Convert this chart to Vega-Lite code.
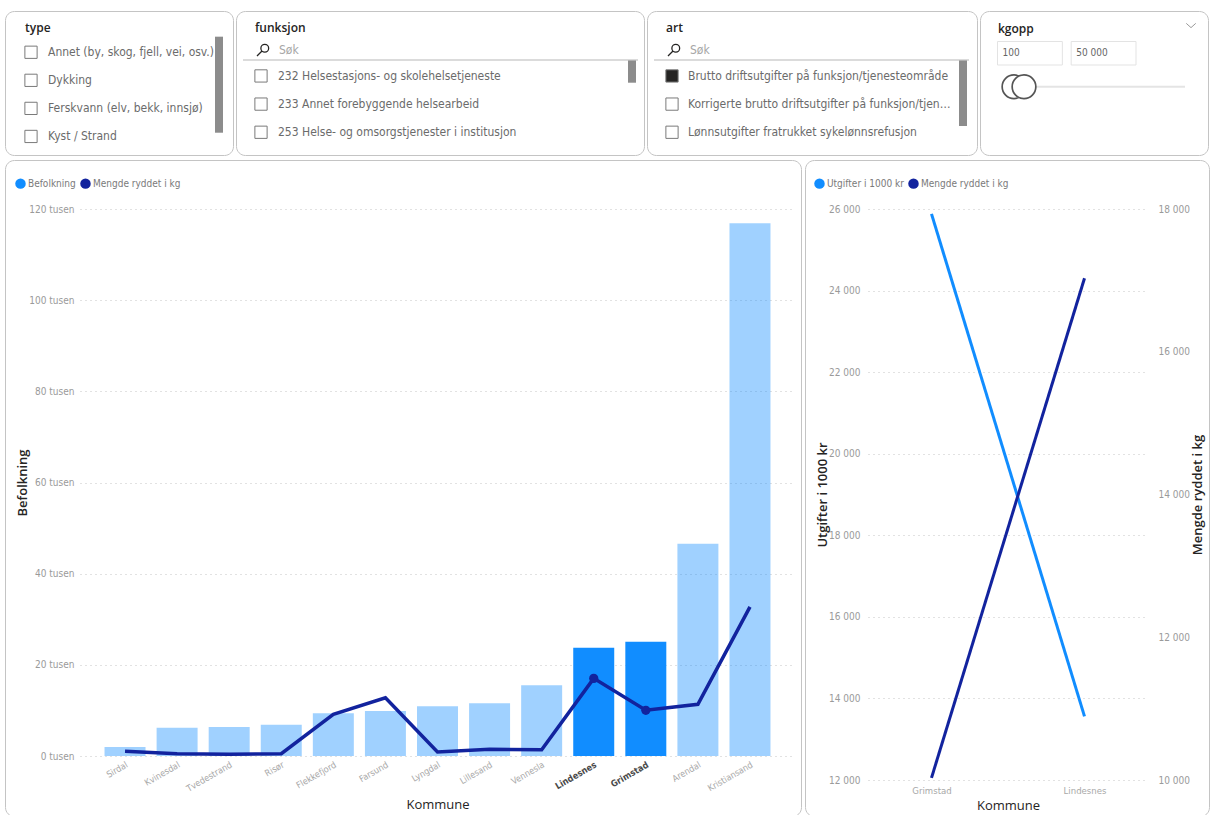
{
  "$schema": "https://vega.github.io/schema/vega-lite/v6.json",
  "background": "#ffffff",
  "padding": {"left": 4, "top": 10, "right": 0, "bottom": 0},
  "datasets": {
    "kommuner": [
      {"Kommune": "Sirdal", "Befolkning": 1970, "Mengde ryddet i kg": 1030, "valgt": false},
      {"Kommune": "Kvinesdal", "Befolkning": 6200, "Mengde ryddet i kg": 500, "valgt": false},
      {"Kommune": "Tvedestrand", "Befolkning": 6360, "Mengde ryddet i kg": 370, "valgt": false},
      {"Kommune": "Risør", "Befolkning": 6860, "Mengde ryddet i kg": 500, "valgt": false},
      {"Kommune": "Flekkefjord", "Befolkning": 9360, "Mengde ryddet i kg": 9140, "valgt": false},
      {"Kommune": "Farsund", "Befolkning": 9870, "Mengde ryddet i kg": 12780, "valgt": false},
      {"Kommune": "Lyngdal", "Befolkning": 10900, "Mengde ryddet i kg": 880, "valgt": false},
      {"Kommune": "Lillesand", "Befolkning": 11550, "Mengde ryddet i kg": 1470, "valgt": false},
      {"Kommune": "Vennesla", "Befolkning": 15500, "Mengde ryddet i kg": 1380, "valgt": false},
      {"Kommune": "Lindesnes", "Befolkning": 23750, "Mengde ryddet i kg": 17030, "Utgifter i 1000 kr": 13560, "valgt": true},
      {"Kommune": "Grimstad", "Befolkning": 25060, "Mengde ryddet i kg": 10030, "Utgifter i 1000 kr": 25880, "valgt": true},
      {"Kommune": "Arendal", "Befolkning": 46550, "Mengde ryddet i kg": 11340, "valgt": false},
      {"Kommune": "Kristiansand", "Befolkning": 116900, "Mengde ryddet i kg": 32730, "valgt": false}
    ],
    "slicere": [
      {"slicer": "type"},
      {"slicer": "funksjon"},
      {"slicer": "art"},
      {"slicer": "kgopp"}
    ],
    "valg": [
      {"slicer": "type", "nr": 1, "element": "Annet (by, skog, fjell, vei, osv.)", "valgt": false},
      {"slicer": "type", "nr": 2, "element": "Dykking", "valgt": false},
      {"slicer": "type", "nr": 3, "element": "Ferskvann (elv, bekk, innsjø)", "valgt": false},
      {"slicer": "type", "nr": 4, "element": "Kyst / Strand", "valgt": false},
      {"slicer": "funksjon", "nr": 1, "element": "232 Helsestasjons- og skolehelsetjeneste", "valgt": false},
      {"slicer": "funksjon", "nr": 2, "element": "233 Annet forebyggende helsearbeid", "valgt": false},
      {"slicer": "funksjon", "nr": 3, "element": "253 Helse- og omsorgstjenester i institusjon", "valgt": false},
      {"slicer": "art", "nr": 1, "element": "Brutto driftsutgifter på funksjon/tjenesteområde", "valgt": true},
      {"slicer": "art", "nr": 2, "element": "Korrigerte brutto driftsutgifter på funksjon/tjenesteområde", "valgt": false},
      {"slicer": "art", "nr": 3, "element": "Lønnsutgifter fratrukket sykelønnsrefusjon", "valgt": false}
    ],
    "kgopp": [
      {"grense": "fra", "verdi": 100},
      {"grense": "til", "verdi": 50000}
    ]
  },
  "spacing": 3,
  "resolve": {"scale": {"color": "independent"}},
  "vconcat": [
    {
      "spacing": 3,
      "bounds": "flush",
      "resolve": {"scale": {"color": "independent"}},
      "hconcat": [
        {
          "width": 228,
          "height": 144,
          "layer": [
            {
              "data": {"name": "slicere"},
              "transform": [{"filter": "datum.slicer === 'type'"}],
              "mark": {"type": "text", "align": "left", "baseline": "middle", "font": "Open Sans", "fontSize": 12, "fontWeight": 600, "color": "#252423"},
              "encoding": {
                "x": {"datum": 20, "type": "quantitative", "scale": {"domain": [0, 228], "nice": false, "zero": false}, "axis": null},
                "y": {"datum": 0.146, "type": "quantitative", "scale": {"domain": [-0.47, 4.661], "nice": false, "zero": false, "reverse": true}, "axis": null},
                "text": {"field": "slicer"}
              }
            },
            {
              "data": {"name": "slicere"},
              "transform": [{"filter": "datum.slicer === 'type'"}],
              "mark": {"type": "rule", "strokeWidth": 8, "color": "#8c8c8c"},
              "encoding": {
                "x": {"datum": 214, "type": "quantitative", "scale": {"domain": [0, 228], "nice": false, "zero": false}, "axis": null},
                "y": {"datum": 0.445, "type": "quantitative", "scale": {"domain": [-0.47, 4.661], "nice": false, "zero": false, "reverse": true}, "axis": null},
                "y2": {"datum": 3.867}
              }
            },
            {
              "data": {"name": "valg"},
              "transform": [{"filter": "datum.slicer === 'type'"}],
              "mark": {"type": "point", "shape": "square", "size": 150, "strokeWidth": 1, "stroke": "#7a7a7a", "opacity": 1},
              "encoding": {
                "x": {"datum": 26, "type": "quantitative", "scale": {"domain": [0, 228], "nice": false, "zero": false}, "axis": null},
                "y": {"field": "nr", "type": "quantitative", "scale": {"domain": [-0.47, 4.661], "nice": false, "zero": false, "reverse": true}, "axis": null},
                "fill": {"condition": {"test": "datum.valgt", "value": "#252423"}, "value": "#ffffff"}
              }
            },
            {
              "data": {"name": "valg"},
              "transform": [{"filter": "datum.slicer === 'type'"}],
              "mark": {"type": "text", "align": "left", "baseline": "middle", "fontSize": 12, "color": "#6b6b6b"},
              "encoding": {
                "x": {"datum": 43, "type": "quantitative", "scale": {"domain": [0, 228], "nice": false, "zero": false}, "axis": null},
                "y": {"field": "nr", "type": "quantitative", "scale": {"domain": [-0.47, 4.661], "nice": false, "zero": false, "reverse": true}, "axis": null},
                "text": {"field": "element"}
              }
            }
          ]
        },
        {
          "width": 408,
          "height": 144,
          "layer": [
            {
              "data": {"name": "slicere"},
              "transform": [{"filter": "datum.slicer === 'funksjon'"}],
              "mark": {"type": "text", "align": "left", "baseline": "middle", "font": "Open Sans", "fontSize": 12, "fontWeight": 600, "color": "#252423"},
              "encoding": {
                "x": {"datum": 19, "type": "quantitative", "scale": {"domain": [0, 408], "nice": false, "zero": false}, "axis": null},
                "y": {"datum": -0.693, "type": "quantitative", "scale": {"domain": [-1.307, 3.808], "nice": false, "zero": false, "reverse": true}, "axis": null},
                "text": {"field": "slicer"}
              }
            },
            {
              "data": {"name": "slicere"},
              "transform": [{"filter": "datum.slicer === 'funksjon'"}],
              "mark": {"type": "point", "shape": "M0.8,-0.25A0.55,0.55 0 1 1 -0.3,-0.25A0.55,0.55 0 1 1 0.8,-0.25M-0.14,0.14L-0.85,0.85", "size": 200, "filled": false, "stroke": "#252423", "strokeWidth": 1.3, "opacity": 1},
              "encoding": {
                "x": {"datum": 27, "type": "quantitative", "scale": {"domain": [0, 408], "nice": false, "zero": false}, "axis": null},
                "y": {"datum": 0.078, "type": "quantitative", "scale": {"domain": [-1.307, 3.808], "nice": false, "zero": false, "reverse": true}, "axis": null}
              }
            },
            {
              "data": {"name": "slicere"},
              "transform": [{"filter": "datum.slicer === 'funksjon'"}],
              "mark": {"type": "text", "text": "Søk", "align": "left", "baseline": "middle", "fontSize": 12, "color": "#a6a6a6"},
              "encoding": {
                "x": {"datum": 43, "type": "quantitative", "scale": {"domain": [0, 408], "nice": false, "zero": false}, "axis": null},
                "y": {"datum": 0.078, "type": "quantitative", "scale": {"domain": [-1.307, 3.808], "nice": false, "zero": false, "reverse": true}, "axis": null}
              }
            },
            {
              "data": {"name": "slicere"},
              "transform": [{"filter": "datum.slicer === 'funksjon'"}],
              "mark": {"type": "rule", "strokeWidth": 1.5, "color": "#cfcfcf"},
              "encoding": {
                "x": {"datum": 7, "type": "quantitative", "scale": {"domain": [0, 408], "nice": false, "zero": false}, "axis": null},
                "x2": {"datum": 402},
                "y": {"datum": 0.433, "type": "quantitative", "scale": {"domain": [-1.307, 3.808], "nice": false, "zero": false, "reverse": true}, "axis": null}
              }
            },
            {
              "data": {"name": "slicere"},
              "transform": [{"filter": "datum.slicer === 'funksjon'"}],
              "mark": {"type": "rule", "strokeWidth": 8, "color": "#8c8c8c"},
              "encoding": {
                "x": {"datum": 396, "type": "quantitative", "scale": {"domain": [0, 408], "nice": false, "zero": false}, "axis": null},
                "y": {"datum": 0.45, "type": "quantitative", "scale": {"domain": [-1.307, 3.808], "nice": false, "zero": false, "reverse": true}, "axis": null},
                "y2": {"datum": 1.24}
              }
            },
            {
              "data": {"name": "valg"},
              "transform": [{"filter": "datum.slicer === 'funksjon'"}],
              "mark": {"type": "point", "shape": "square", "size": 150, "strokeWidth": 1, "stroke": "#7a7a7a", "opacity": 1},
              "encoding": {
                "x": {"datum": 25, "type": "quantitative", "scale": {"domain": [0, 408], "nice": false, "zero": false}, "axis": null},
                "y": {"field": "nr", "type": "quantitative", "scale": {"domain": [-1.307, 3.808], "nice": false, "zero": false, "reverse": true}, "axis": null},
                "fill": {"condition": {"test": "datum.valgt", "value": "#252423"}, "value": "#ffffff"}
              }
            },
            {
              "data": {"name": "valg"},
              "transform": [{"filter": "datum.slicer === 'funksjon'"}],
              "mark": {"type": "text", "align": "left", "baseline": "middle", "fontSize": 12, "color": "#6b6b6b"},
              "encoding": {
                "x": {"datum": 42, "type": "quantitative", "scale": {"domain": [0, 408], "nice": false, "zero": false}, "axis": null},
                "y": {"field": "nr", "type": "quantitative", "scale": {"domain": [-1.307, 3.808], "nice": false, "zero": false, "reverse": true}, "axis": null},
                "text": {"field": "element"}
              }
            }
          ]
        },
        {
          "width": 330,
          "height": 144,
          "layer": [
            {
              "data": {"name": "slicere"},
              "transform": [{"filter": "datum.slicer === 'art'"}],
              "mark": {"type": "text", "align": "left", "baseline": "middle", "font": "Open Sans", "fontSize": 12, "fontWeight": 600, "color": "#252423"},
              "encoding": {
                "x": {"datum": 19, "type": "quantitative", "scale": {"domain": [0, 330], "nice": false, "zero": false}, "axis": null},
                "y": {"datum": -0.693, "type": "quantitative", "scale": {"domain": [-1.307, 3.808], "nice": false, "zero": false, "reverse": true}, "axis": null},
                "text": {"field": "slicer"}
              }
            },
            {
              "data": {"name": "slicere"},
              "transform": [{"filter": "datum.slicer === 'art'"}],
              "mark": {"type": "point", "shape": "M0.8,-0.25A0.55,0.55 0 1 1 -0.3,-0.25A0.55,0.55 0 1 1 0.8,-0.25M-0.14,0.14L-0.85,0.85", "size": 200, "filled": false, "stroke": "#252423", "strokeWidth": 1.3, "opacity": 1},
              "encoding": {
                "x": {"datum": 27, "type": "quantitative", "scale": {"domain": [0, 330], "nice": false, "zero": false}, "axis": null},
                "y": {"datum": 0.078, "type": "quantitative", "scale": {"domain": [-1.307, 3.808], "nice": false, "zero": false, "reverse": true}, "axis": null}
              }
            },
            {
              "data": {"name": "slicere"},
              "transform": [{"filter": "datum.slicer === 'art'"}],
              "mark": {"type": "text", "text": "Søk", "align": "left", "baseline": "middle", "fontSize": 12, "color": "#a6a6a6"},
              "encoding": {
                "x": {"datum": 43, "type": "quantitative", "scale": {"domain": [0, 330], "nice": false, "zero": false}, "axis": null},
                "y": {"datum": 0.078, "type": "quantitative", "scale": {"domain": [-1.307, 3.808], "nice": false, "zero": false, "reverse": true}, "axis": null}
              }
            },
            {
              "data": {"name": "slicere"},
              "transform": [{"filter": "datum.slicer === 'art'"}],
              "mark": {"type": "rule", "strokeWidth": 1.5, "color": "#cfcfcf"},
              "encoding": {
                "x": {"datum": 7, "type": "quantitative", "scale": {"domain": [0, 330], "nice": false, "zero": false}, "axis": null},
                "x2": {"datum": 322},
                "y": {"datum": 0.433, "type": "quantitative", "scale": {"domain": [-1.307, 3.808], "nice": false, "zero": false, "reverse": true}, "axis": null}
              }
            },
            {
              "data": {"name": "slicere"},
              "transform": [{"filter": "datum.slicer === 'art'"}],
              "mark": {"type": "rule", "strokeWidth": 8, "color": "#8c8c8c"},
              "encoding": {
                "x": {"datum": 316, "type": "quantitative", "scale": {"domain": [0, 330], "nice": false, "zero": false}, "axis": null},
                "y": {"datum": 0.45, "type": "quantitative", "scale": {"domain": [-1.307, 3.808], "nice": false, "zero": false, "reverse": true}, "axis": null},
                "y2": {"datum": 2.778}
              }
            },
            {
              "data": {"name": "valg"},
              "transform": [{"filter": "datum.slicer === 'art'"}],
              "mark": {"type": "point", "shape": "square", "size": 150, "strokeWidth": 1, "stroke": "#7a7a7a", "opacity": 1},
              "encoding": {
                "x": {"datum": 25, "type": "quantitative", "scale": {"domain": [0, 330], "nice": false, "zero": false}, "axis": null},
                "y": {"field": "nr", "type": "quantitative", "scale": {"domain": [-1.307, 3.808], "nice": false, "zero": false, "reverse": true}, "axis": null},
                "fill": {"condition": {"test": "datum.valgt", "value": "#252423"}, "value": "#ffffff"}
              }
            },
            {
              "data": {"name": "valg"},
              "transform": [{"filter": "datum.slicer === 'art'"}],
              "mark": {"type": "text", "align": "left", "baseline": "middle", "fontSize": 12, "color": "#6b6b6b", "limit": 268, "ellipsis": ""},
              "encoding": {
                "x": {"datum": 41, "type": "quantitative", "scale": {"domain": [0, 330], "nice": false, "zero": false}, "axis": null},
                "y": {"field": "nr", "type": "quantitative", "scale": {"domain": [-1.307, 3.808], "nice": false, "zero": false, "reverse": true}, "axis": null},
                "text": {"field": "element"}
              }
            }
          ]
        },
        {
          "width": 228,
          "height": 144,
          "resolve": {"scale": {"x": "independent"}},
          "layer": [
            {
              "data": {"name": "slicere"},
              "transform": [{"filter": "datum.slicer === 'kgopp'"}],
              "mark": {"type": "text", "align": "left", "baseline": "middle", "font": "Open Sans", "fontSize": 12, "fontWeight": 600, "color": "#252423"},
              "encoding": {
                "x": {"datum": 18, "type": "quantitative", "scale": {"domain": [0, 228], "nice": false, "zero": false}, "axis": null},
                "y": {"datum": 18, "type": "quantitative", "scale": {"domain": [0, 144], "nice": false, "zero": false, "reverse": true}, "axis": null},
                "text": {"field": "slicer"}
              }
            },
            {
              "data": {"name": "slicere"},
              "transform": [{"filter": "datum.slicer === 'kgopp'"}],
              "mark": {"type": "point", "shape": "M-1,-0.45L0,0.45L1,-0.45", "size": 90, "filled": false, "stroke": "#9a9a9a", "strokeWidth": 1, "opacity": 1},
              "encoding": {
                "x": {"datum": 211, "type": "quantitative", "scale": {"domain": [0, 228], "nice": false, "zero": false}, "axis": null},
                "y": {"datum": 14.5, "type": "quantitative", "scale": {"domain": [0, 144], "nice": false, "zero": false, "reverse": true}, "axis": null}
              }
            },
            {
              "data": {"name": "kgopp"},
              "mark": {"type": "rect", "fill": "#ffffff", "stroke": "#e3e3e3", "strokeWidth": 1},
              "encoding": {
                "x": {"field": "grense", "type": "nominal", "scale": {"type": "band", "domain": ["fra", "til"], "range": [17.5, 156], "paddingInner": 0.12, "paddingOuter": 0}, "axis": null},
                "y": {"datum": 30.5, "type": "quantitative", "scale": {"domain": [0, 144], "nice": false, "zero": false, "reverse": true}, "axis": null},
                "y2": {"datum": 54}
              }
            },
            {
              "data": {"name": "kgopp"},
              "mark": {"type": "text", "align": "left", "baseline": "middle", "fontSize": 10, "color": "#666666", "dx": 5},
              "encoding": {
                "x": {"field": "grense", "type": "nominal", "bandPosition": 0, "scale": {"type": "band", "domain": ["fra", "til"], "range": [17.5, 156], "paddingInner": 0.12, "paddingOuter": 0}, "axis": null},
                "y": {"datum": 42.3, "type": "quantitative", "scale": {"domain": [0, 144], "nice": false, "zero": false, "reverse": true}, "axis": null},
                "text": {"field": "verdi", "type": "quantitative", "format": ",d"}
              }
            },
            {
              "data": {"name": "slicere"},
              "transform": [{"filter": "datum.slicer === 'kgopp'"}],
              "mark": {"type": "rule", "strokeWidth": 2, "color": "#e4e4e4"},
              "encoding": {
                "x": {"datum": 40, "type": "quantitative", "scale": {"domain": [0, 228], "nice": false, "zero": false}, "axis": null},
                "x2": {"datum": 205},
                "y": {"datum": 75.7, "type": "quantitative", "scale": {"domain": [0, 144], "nice": false, "zero": false, "reverse": true}, "axis": null}
              }
            },
            {
              "data": {"name": "kgopp"},
              "mark": {"type": "point", "shape": "circle", "size": 560, "fill": "#ffffff", "stroke": "#555555", "strokeWidth": 1.7, "opacity": 1},
              "encoding": {
                "x": {"field": "grense", "type": "nominal", "scale": {"type": "point", "domain": ["fra", "til"], "range": [34, 44], "padding": 0}, "axis": null},
                "y": {"datum": 75.7, "type": "quantitative", "scale": {"domain": [0, 144], "nice": false, "zero": false, "reverse": true}, "axis": null}
              }
            }
          ]
        }
      ]
    },
    {
      "spacing": 4,
      "bounds": "flush",
      "resolve": {"scale": {"color": "independent"}},
      "hconcat": [
        {
          "width": 796,
          "height": 656,
          "data": {"name": "kommuner"},
          "encoding": {
            "x": {
              "field": "Kommune",
              "type": "nominal",
              "sort": null,
              "scale": {"type": "band", "range": [75, 790], "paddingInner": 0.213, "paddingOuter": 0.471},
              "axis": {
                "title": "Kommune",
                "offset": -60,
                "labelAngle": -30,
                "labelFontSize": 9,
                "labelColor": {"condition": {"test": "datum.value === 'Lindesnes' || datum.value === 'Grimstad'", "value": "#4a4a4a"}, "value": "#a8a8a8"},
                "labelFontWeight": {"condition": {"test": "datum.value === 'Lindesnes' || datum.value === 'Grimstad'", "value": "bold"}, "value": "normal"},
                "labelPadding": 4,
                "labelOverlap": false,
                "labelBound": false,
                "ticks": false,
                "domain": false,
                "grid": false,
                "titleFontSize": 13,
                "titleFontWeight": "normal",
                "titleColor": "#252423",
                "titleY": 48,
                "titleBaseline": "middle"
              }
            }
          },
          "layer": [
            {
              "mark": {"type": "bar"},
              "encoding": {
                "y": {
                  "field": "Befolkning",
                  "type": "quantitative",
                  "scale": {"domain": [0, 120000], "range": [596, 49], "nice": false},
                  "axis": {
                    "title": "Befolkning",
                    "values": [0, 20000, 40000, 60000, 80000, 100000, 120000],
                    "labelExpr": "(datum.value / 1000) + ' tusen'",
                    "offset": -71,
                    "labelPadding": 2,
                    "ticks": false,
                    "domain": false,
                    "grid": true,
                    "gridDash": [1, 4],
                    "gridColor": "#c4c4c4",
                    "gridWidth": 1,
                    "labelFontSize": 10,
                    "labelColor": "#9a9a9a",
                    "titleFontSize": 13,
                    "titleFontWeight": 600,
                    "titleColor": "#252423",
                    "titleX": -54,
                    "titleBaseline": "middle"
                  }
                },
                "color": {
                  "datum": "Befolkning",
                  "type": "nominal",
                  "scale": {"domain": ["Befolkning", "Mengde ryddet i kg"], "range": ["#118DFF", "#12239E"]},
                  "legend": {
                    "title": null,
                    "orient": "none",
                    "legendX": 10,
                    "legendY": 18,
                    "direction": "horizontal",
                    "symbolType": "circle",
                    "symbolSize": 110,
                    "symbolStrokeWidth": 0,
                    "labelFontSize": 10,
                    "labelColor": "#7a7a7a",
                    "padding": 0,
                    "columnPadding": 4,
                    "labelOffset": 2
                  }
                },
                "opacity": {"condition": {"test": "datum.valgt", "value": 1}, "value": 0.4}
              }
            },
            {
              "mark": {"type": "line", "strokeWidth": 3.5},
              "encoding": {
                "y": {
                  "field": "Mengde ryddet i kg",
                  "type": "quantitative",
                  "scale": {"domain": [0, 120000], "range": [596, 49], "nice": false},
                  "axis": {
                    "title": "Befolkning",
                    "values": [0, 20000, 40000, 60000, 80000, 100000, 120000],
                    "labelExpr": "(datum.value / 1000) + ' tusen'",
                    "offset": -71,
                    "labelPadding": 2,
                    "ticks": false,
                    "domain": false,
                    "grid": true,
                    "gridDash": [1, 4],
                    "gridColor": "#c4c4c4",
                    "gridWidth": 1,
                    "labelFontSize": 10,
                    "labelColor": "#9a9a9a",
                    "titleFontSize": 13,
                    "titleFontWeight": 600,
                    "titleColor": "#252423",
                    "titleX": -54,
                    "titleBaseline": "middle"
                  }
                },
                "color": {"datum": "Mengde ryddet i kg", "type": "nominal", "scale": {"domain": ["Befolkning", "Mengde ryddet i kg"], "range": ["#118DFF", "#12239E"]}, "legend": null}
              }
            },
            {
              "transform": [{"filter": "datum.valgt"}],
              "mark": {"type": "point", "filled": true, "size": 85, "opacity": 1},
              "encoding": {
                "y": {
                  "field": "Mengde ryddet i kg",
                  "type": "quantitative",
                  "scale": {"domain": [0, 120000], "range": [596, 49], "nice": false},
                  "axis": {
                    "title": "Befolkning",
                    "values": [0, 20000, 40000, 60000, 80000, 100000, 120000],
                    "labelExpr": "(datum.value / 1000) + ' tusen'",
                    "offset": -71,
                    "labelPadding": 2,
                    "ticks": false,
                    "domain": false,
                    "grid": true,
                    "gridDash": [1, 4],
                    "gridColor": "#c4c4c4",
                    "gridWidth": 1,
                    "labelFontSize": 10,
                    "labelColor": "#9a9a9a",
                    "titleFontSize": 13,
                    "titleFontWeight": 600,
                    "titleColor": "#252423",
                    "titleX": -54,
                    "titleBaseline": "middle"
                  }
                },
                "color": {"datum": "Mengde ryddet i kg", "type": "nominal", "scale": {"domain": ["Befolkning", "Mengde ryddet i kg"], "range": ["#118DFF", "#12239E"]}, "legend": null}
              }
            }
          ]
        },
        {
          "width": 404,
          "height": 656,
          "data": {"name": "kommuner"},
          "transform": [{"filter": "datum.valgt"}],
          "encoding": {
            "x": {
              "field": "Kommune",
              "type": "nominal",
              "sort": ["Grimstad", "Lindesnes"],
              "scale": {"type": "point", "range": [63, 343], "padding": 0.415},
              "axis": {
                "title": "Kommune",
                "offset": -36,
                "labelAngle": 0,
                "labelFontSize": 9.5,
                "labelColor": "#a8a8a8",
                "labelPadding": 5,
                "ticks": false,
                "domain": false,
                "grid": false,
                "titleFontSize": 13,
                "titleFontWeight": "normal",
                "titleColor": "#252423",
                "titleY": 25,
                "titleBaseline": "middle"
              }
            }
          },
          "layer": [
            {
              "transform": [{"fold": ["Utgifter i 1000 kr", "Mengde ryddet i kg"], "as": ["serie", "verdi"]}],
              "mark": {"type": "point", "filled": true, "size": 0, "opacity": 1},
              "encoding": {
                "y": {"field": "Utgifter i 1000 kr", "type": "quantitative", "scale": {"domain": [12000, 26000], "range": [620, 49], "nice": false, "zero": false}, "axis": null},
                "color": {
                  "field": "serie",
                  "type": "nominal",
                  "scale": {"domain": ["Utgifter i 1000 kr", "Mengde ryddet i kg"], "range": ["#118DFF", "#12239E"]},
                  "legend": {
                    "title": null,
                    "orient": "none",
                    "legendX": 9,
                    "legendY": 18,
                    "direction": "horizontal",
                    "symbolType": "circle",
                    "symbolSize": 110,
                    "symbolStrokeWidth": 0,
                    "symbolOpacity": 1,
                    "labelFontSize": 10,
                    "labelColor": "#7a7a7a",
                    "padding": 0,
                    "columnPadding": 4,
                    "labelOffset": 2
                  }
                }
              }
            },
            {
              "mark": {"type": "line", "strokeWidth": 3},
              "encoding": {
                "y": {
                  "field": "Utgifter i 1000 kr",
                  "type": "quantitative",
                  "scale": {"domain": [12000, 26000], "range": [620, 49], "nice": false, "zero": false},
                  "axis": {
                    "title": "Utgifter i 1000 kr",
                    "orient": "left",
                    "values": [12000, 14000, 16000, 18000, 20000, 22000, 24000, 26000],
                    "format": ",d",
                    "offset": -57,
                    "labelPadding": 2,
                    "ticks": false,
                    "domain": false,
                    "grid": true,
                    "gridDash": [1, 4],
                    "gridColor": "#c4c4c4",
                    "labelFontSize": 10,
                    "labelColor": "#9a9a9a",
                    "titleFontSize": 13,
                    "titleFontWeight": 600,
                    "titleColor": "#252423",
                    "titleX": -40,
                    "titleBaseline": "middle"
                  }
                },
                "color": {"datum": "Utgifter i 1000 kr", "type": "nominal", "scale": {"domain": ["Utgifter i 1000 kr", "Mengde ryddet i kg"], "range": ["#118DFF", "#12239E"]}, "legend": null}
              }
            },
            {
              "mark": {"type": "line", "strokeWidth": 3},
              "encoding": {
                "y": {
                  "field": "Mengde ryddet i kg",
                  "type": "quantitative",
                  "scale": {"domain": [10000, 18000], "range": [620, 49], "nice": false, "zero": false},
                  "axis": {
                    "title": "Mengde ryddet i kg",
                    "orient": "right",
                    "values": [10000, 12000, 14000, 16000, 18000],
                    "format": ",d",
                    "offset": -53,
                    "labelPadding": 2,
                    "ticks": false,
                    "domain": false,
                    "grid": false,
                    "labelFontSize": 10,
                    "labelColor": "#9a9a9a",
                    "titleFontSize": 13,
                    "titleFontWeight": 600,
                    "titleColor": "#252423",
                    "titleAngle": -90,
                    "titleX": 41,
                    "titleBaseline": "middle"
                  }
                },
                "color": {"datum": "Mengde ryddet i kg", "type": "nominal", "scale": {"domain": ["Utgifter i 1000 kr", "Mengde ryddet i kg"], "range": ["#118DFF", "#12239E"]}, "legend": null}
              }
            }
          ],
          "resolve": {"scale": {"y": "independent"}}
        }
      ]
    }
  ],
  "config": {
    "font": "Liberation Sans Narrow, DejaVu Sans Condensed, Roboto, sans-serif",
    "locale": {"number": {"decimal": ",", "thousands": " ", "grouping": [3], "currency": ["", " kr"]}},
    "view": {"stroke": "#c4c4c4", "strokeWidth": 1, "cornerRadius": 9},
    "axis": {"labelFont": "Liberation Sans Narrow, DejaVu Sans Condensed, Roboto, sans-serif", "titleFont": "Open Sans"},
    "legend": {"labelFont": "Liberation Sans Narrow, DejaVu Sans Condensed, Roboto, sans-serif"},
    "text": {"font": "Liberation Sans Narrow, DejaVu Sans Condensed, Roboto, sans-serif"}
  }
}
